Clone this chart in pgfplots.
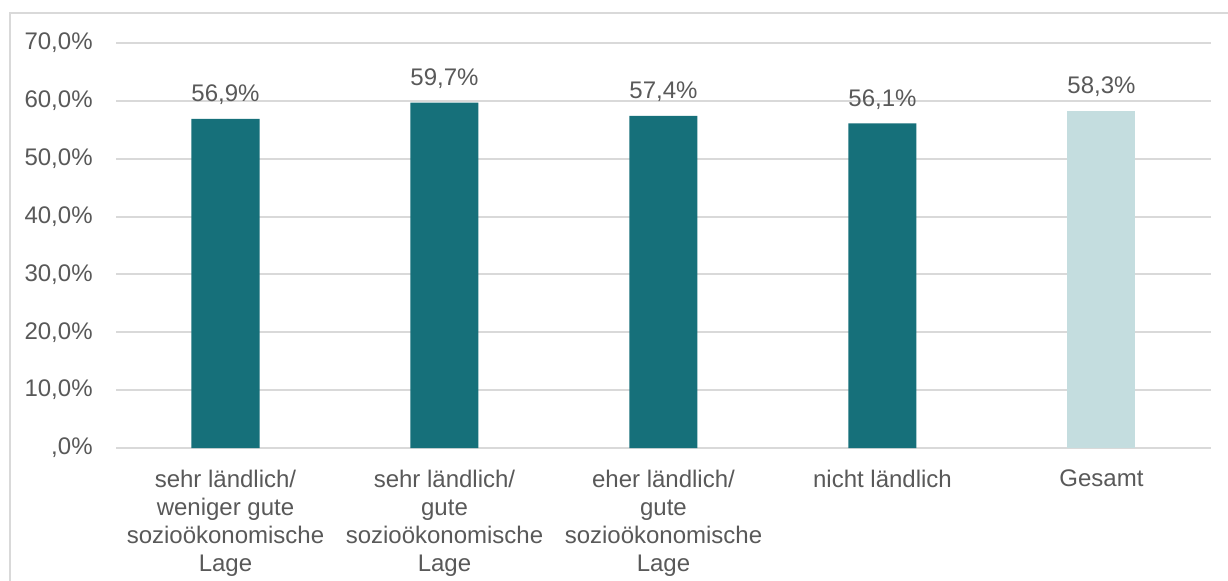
\documentclass[border=0pt]{standalone}
\usepackage{fontspec}
\setmainfont{Liberation Sans}
\usepackage{pgfplots}
\pgfplotsset{compat=1.18}
\definecolor{teal1}{HTML}{16707A}
\definecolor{teal2}{HTML}{C4DDDF}
\definecolor{gridc}{HTML}{D9D9D9}
\definecolor{txt}{HTML}{595959}
\begin{document}
\begin{tikzpicture}
\useasboundingbox (0,0) rectangle (614pt,290pt);
\fill[white] (0,0) rectangle (614pt,290pt);
\draw[gridc, line width=1pt] (5pt,-2pt) -- (5pt,283.5pt) -- (616pt,283.5pt);
\begin{axis}[
  at={(58pt,66pt)}, anchor=south west,
  scale only axis, width=547.5pt, height=202.5pt,
  ybar, bar width=34pt, bar shift=0pt,
  xmin=-0.5, xmax=4.5, ymin=0, ymax=70,
  enlargelimits=false,
  axis line style={draw=none}, tick style={draw=none},
  ymajorgrids, grid style={gridc, line width=1pt},
  ytick={0,10,...,70},
  yticklabels={{,0\%},{10,0\%},{20,0\%},{30,0\%},{40,0\%},{50,0\%},{60,0\%},{70,0\%}},
  yticklabel style={inner sep=0pt, xshift=-11.5pt, text=txt, font=\fontsize{12}{14}\selectfont},
  xtick={0,1,2,3,4},
  xticklabels={{sehr ländlich/\\weniger gute\\sozioökonomische\\Lage},{sehr ländlich/\\gute\\sozioökonomische\\Lage},{eher ländlich/\\gute\\sozioökonomische\\Lage},{nicht ländlich},{Gesamt}},
  xticklabel style={inner sep=0pt, yshift=-6.5pt, align=center, anchor=north, text=txt, font=\fontsize{12}{14}\selectfont},
  /pgf/number format/assume math mode=true,
  nodes near coords={\pgfmathprintnumber[fixed, fixed zerofill, precision=1, use comma]{\pgfplotspointmeta}\%},
  nodes near coords style={anchor=base, inner sep=0pt, yshift=8.5pt, text=txt, font=\fontsize{12}{14}\selectfont},
]
\addplot[fill=teal1, draw=none] coordinates {(0,56.9) (1,59.7) (2,57.4) (3,56.1)};
\addplot[fill=teal2, draw=none] coordinates {(4,58.3)};
\end{axis}
\end{tikzpicture}
\end{document}
